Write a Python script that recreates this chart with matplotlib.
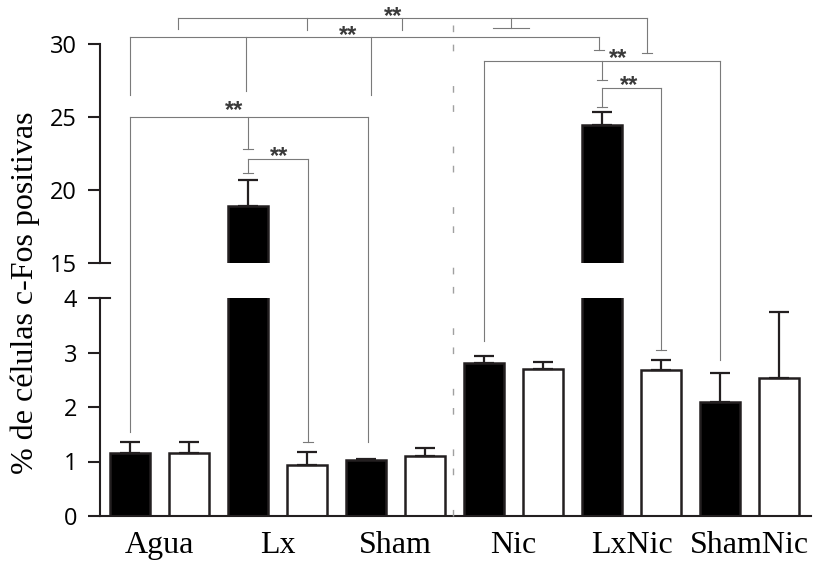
import numpy as np
import matplotlib
matplotlib.use("Agg")
import matplotlib.pyplot as plt

# ---------------- data ----------------
groups = ["Agua", "Lx", "Sham", "Nic", "LxNic", "ShamNic"]
black_vals = [1.16, 18.89, 1.02, 2.81, 24.42, 2.09]
black_err = [0.19, 1.78, 0.03, 0.13, 0.89, 0.54]
white_vals = [1.16, 0.94, 1.11, 2.70, 2.68, 2.53]
white_err = [0.20, 0.24, 0.13, 0.13, 0.19, 1.21]

low_ticks = [0, 1, 2, 3, 4]
high_ticks = [15, 20, 25, 30]
ylabel = "% de células c-Fos positivas"

# significance brackets: level (upper-axis value), drops (x, end value, axis, cap half width), star (x, y)
brackets = [
    dict(level=25.0, drops=[(0.0, 1.55, "lo", 0), (2.0, 22.78, "hi", 0.085), (4.03, 1.35, "lo", 0)], star=(1.76, 25.02)),
    dict(level=22.13, drops=[(2.0, 21.13, "hi", 0.085), (3.02, 1.35, "lo", 0.085)], star=(2.53, 21.87)),
    dict(level=28.83, drops=[(6.0, 3.22, "lo", 0), (8.0, 27.51, "hi", 0.085), (10.0, 2.87, "lo", 0)], star=(8.27, 28.59)),
    dict(level=26.96, drops=[(8.0, 25.70, "hi", 0.085), (9.0, 3.05, "lo", 0.085)], star=(8.46, 26.74)),
    dict(level=30.46, drops=[(0.0, 26.52, "hi", 0), (1.96, 26.80, "hi", 0), (4.08, 26.52, "hi", 0), (7.95, 29.59, "hi", 0.085)], star=(3.69, 30.15)),
    dict(level=31.78, drops=[(0.81, 31.03, "hi", 0), (3.0, 30.93, "hi", 0), (4.61, 30.93, "hi", 0), (6.46, 31.10, "hi", 0.3), (8.76, 29.40, "hi", 0.085)], star=(4.46, 31.45)),
]

# ---------------- style ----------------
SERIF = "Liberation Serif"
SANS = "Open Sans"
DARK = "#231f20"
GRAY = "#7a7a7a"

W, H = 831, 565
fig = plt.figure(figsize=(W / 100, H / 100), dpi=100)

left_px, right_px = 100, 811
ax_lo = fig.add_axes([left_px / W, (H - 516) / H, (right_px - left_px) / W, (516 - 298) / H])
ax_hi = fig.add_axes([left_px / W, (H - 262.7) / H, (right_px - left_px) / W, (262.7 - 44) / H])

n = len(groups)
xb = np.arange(n) * 2
xw = xb + 1
bar_w = 0.68
xlim = ((left_px - 130) / 59, (right_px - 130) / 59)

for ax in (ax_lo, ax_hi):
    ax.bar(xb, black_vals, width=bar_w, color="black", edgecolor=DARK, linewidth=1.8, zorder=2)
    ax.bar(xw, white_vals, width=bar_w, color="white", edgecolor=DARK, linewidth=1.8, zorder=2)
    ax.errorbar(xb, black_vals, yerr=[np.zeros(n), black_err], fmt="none", ecolor=DARK,
                elinewidth=1.6, capsize=7.2, capthick=1.6, zorder=3)
    ax.errorbar(xw, white_vals, yerr=[np.zeros(n), white_err], fmt="none", ecolor=DARK,
                elinewidth=1.6, capsize=7.2, capthick=1.6, zorder=3)
    ax.set_xlim(*xlim)
    ax.patch.set_alpha(0)
    for s in ("top", "right"):
        ax.spines[s].set_visible(False)
    ax.spines["left"].set_linewidth(1.5)
    ax.spines["left"].set_color(DARK)
    ax.tick_params(axis="y", length=8.6, width=1.5, color=DARK, pad=8.0)

ax_lo.set_ylim(0, 4)
ax_hi.set_ylim(15, 30)
ax_lo.set_yticks(low_ticks)
ax_hi.set_yticks(high_ticks)
for ax in (ax_lo, ax_hi):
    for lab in ax.get_yticklabels():
        lab.set_family(SANS)
        lab.set_fontsize(17)
        lab.set_color("black")

ax_hi.spines["bottom"].set_visible(False)
ax_hi.set_xticks([])
ax_lo.spines["bottom"].set_linewidth(1.5)
ax_lo.spines["bottom"].set_color(DARK)
ax_lo.set_xticks(xb + 0.5)
ax_lo.set_xticklabels(groups, family=SERIF, fontsize=23)
ax_lo.tick_params(axis="x", length=0, pad=11)

# break marks: ticks crossing the spine at 15 and 4
stub = 10 / (right_px - left_px)
ax_hi.plot([0, stub], [15, 15], transform=ax_hi.get_yaxis_transform(), color=DARK, lw=1.5, clip_on=False)
ax_lo.plot([0, stub], [4, 4], transform=ax_lo.get_yaxis_transform(), color=DARK, lw=1.5, clip_on=False)


def hi_y(v, axis):
    if axis == "hi":
        return v
    disp = ax_lo.transData.transform([(0, v)])
    return ax_hi.transData.inverted().transform(disp)[0][1]


# dashed separator
sep_x = 5.47
ax_hi.plot([sep_x, sep_x], [31.3, hi_y(0, "lo")], color="#a0a0a0", lw=1.0,
           dashes=(4.8, 9, 4.8, 25), clip_on=False, zorder=1)

# brackets
for b in brackets:
    xs = [d[0] for d in b["drops"]]
    ax_hi.plot([min(xs), max(xs)], [b["level"], b["level"]], color=GRAY, lw=0.8, clip_on=False, zorder=4)
    for x, end, axis, cap in b["drops"]:
        ye = hi_y(end, axis)
        ax_hi.plot([x, x], [b["level"], ye], color=GRAY, lw=0.8, clip_on=False, zorder=4)
        if cap:
            ax_hi.plot([x - cap, x + cap], [ye, ye], color=GRAY, lw=0.8, clip_on=False, zorder=4)
    sx, sy = b["star"]
    ax_hi.text(sx, sy, "**", ha="center", va="baseline", family="Liberation Sans",
               fontweight="bold", fontsize=17, color="#3a3a3a", clip_on=False, zorder=5)

fig.text(25 / W, 1 - 292.5 / H, ylabel, rotation=90, ha="center", va="center",
         family=SERIF, fontsize=23, color="black")

fig.savefig("out.png", dpi=100)
